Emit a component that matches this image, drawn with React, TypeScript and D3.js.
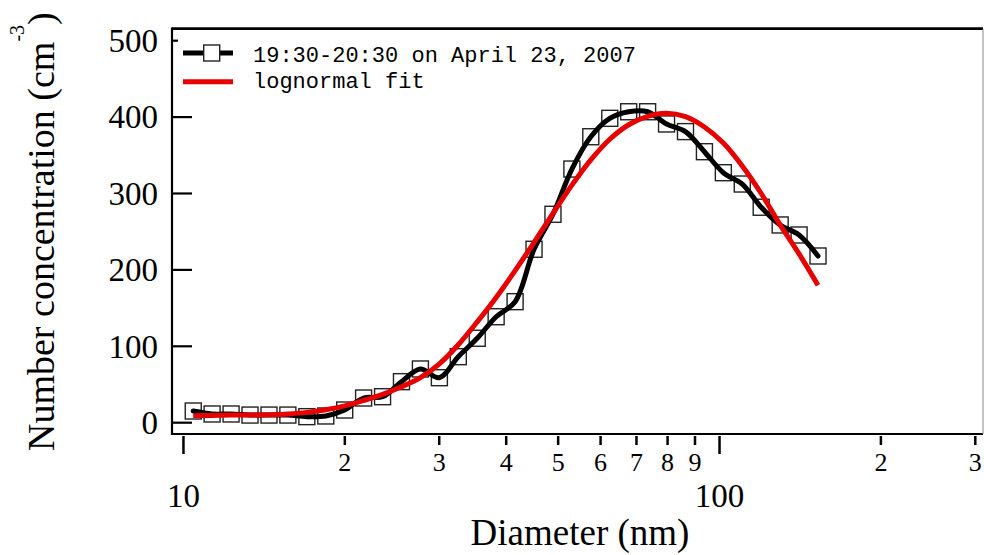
import React from "react";
import * as d3 from "d3";

// Diameter (nm) of each size bin
const diameters = [10.43, 11.31, 12.27, 13.31, 14.44, 15.66, 16.99, 18.43, 19.99, 21.68, 23.52, 25.51, 27.67, 30.02, 32.56, 35.32, 38.31, 41.56, 45.08, 48.9, 53.04, 57.53, 62.41, 67.69, 73.43, 79.65, 86.4, 93.72, 101.66, 110.27, 119.61, 129.75, 140.74, 152.66];
// Measured number concentration (cm^-3)
const concentration = [15.3, 11.4, 11.4, 10, 10, 10, 7.9, 8.8, 16.6, 32.3, 34, 53.7, 70.3, 58.9, 86.4, 110.5, 138.7, 158.4, 227, 272.8, 332, 374.3, 398.4, 407, 407, 391, 381, 354.7, 327.2, 312.4, 282, 258.8, 245.7, 218.2];
// Lognormal fit values read at the same diameters
const fitValues = [9, 9.5, 10, 10, 10.5, 11.5, 13.5, 17, 22, 29, 37, 47, 59, 77, 102, 132, 164, 199, 236, 274, 311, 344, 371, 390, 401, 405, 400.5, 387, 366, 336, 300, 259, 221, 180];

const yTicks = [0, 100, 200, 300, 400, 500];
const xMajorTicks = [10, 100];
const xMinorTicks = [20, 30, 40, 50, 60, 70, 80, 90, 200, 300];
const xMinorLabels = ["2", "3", "4", "5", "6", "7", "8", "9", "2", "3"];

const legendLabels = ["19:30-20:30 on April 23, 2007", "lognormal fit"];

const W = 984;
const H = 555;
const L = 172, R = 983, T = 28.7, B = 434;

const serif = "'Liberation Serif', 'Times New Roman', serif";
const mono = "'Liberation Mono', 'Courier New', monospace";

export default function App() {
  const x = d3.scaleLog().domain([9.52, 310.1]).range([L, R]);
  const y = d3.scaleLinear().domain([-14.8, 515.7]).range([B, T]);

  const measured = diameters.map((d, i) => [d, concentration[i]] as [number, number]);
  const fit = diameters.map((d, i) => [d, fitValues[i]] as [number, number]);

  const line = d3
    .line<[number, number]>()
    .x((p) => x(p[0]))
    .y((p) => y(p[1]))
    .curve(d3.curveCatmullRom.alpha(0.5));

  const sq = 16;

  return (
    <svg width={W} height={H} style={{ position: "absolute", left: 0, top: 0, background: "#fff" }}>
      <rect x={0} y={0} width={W} height={H} fill="#fff" />

      {/* markers */}
      {measured.map((p, i) => (
        <rect
          key={"m" + i}
          x={x(p[0]) - sq / 2}
          y={y(p[1]) - sq / 2}
          width={sq}
          height={sq}
          fill="none"
          stroke="#222"
          strokeWidth={1.4}
        />
      ))}
      <path d={line(measured) || ""} fill="none" stroke="#000" strokeWidth={5} strokeLinejoin="round" strokeLinecap="round" />
      <path d={line(fit) || ""} fill="none" stroke="#e80000" strokeWidth={5} strokeLinejoin="round" />

      {/* y ticks */}
      {yTicks.map((t) => (
        <g key={"yt" + t}>
          <line x1={L} x2={L + 20} y1={y(t)} y2={y(t)} stroke="#000" strokeWidth={2.2} />
          <text x={158} y={y(t)} dy="0.34em" textAnchor="end" fontFamily={serif} fontSize={33} fill="#000">
            {t}
          </text>
        </g>
      ))}

      {/* legend */}
      <rect x={178} y={33} width={470} height={62} fill="#fff" />
      <line x1={183} x2={233} y1={53} y2={53} stroke="#000" strokeWidth={5} />
      <rect x={211.7 - sq / 2} y={53 - sq / 2} width={sq} height={sq} fill="#fff" stroke="#222" strokeWidth={1.4} />
      <line x1={183} x2={233} y1={81.7} y2={81.7} stroke="#e80000" strokeWidth={5} />
      <text x={253} y={62} fontFamily={mono} fontSize={22} fill="#000">
        {legendLabels[0]}
      </text>
      <text x={253} y={88} fontFamily={mono} fontSize={22} fill="#000">
        {legendLabels[1]}
      </text>

      {/* frame */}
      <line x1={L} x2={R} y1={T} y2={T} stroke="#000" strokeWidth={2.7} />
      <line x1={L} x2={L} y1={T - 1.3} y2={B + 1} stroke="#000" strokeWidth={2.2} />
      <line x1={L} x2={R} y1={B} y2={B} stroke="#000" strokeWidth={2} />
      <line x1={R} x2={R} y1={T} y2={B} stroke="#888" strokeWidth={1} />

      {/* x ticks */}
      {xMajorTicks.map((t) => (
        <g key={"xM" + t}>
          <line x1={x(t)} x2={x(t)} y1={436} y2={454} stroke="#000" strokeWidth={2.5} />
          <text x={x(t)} y={507} textAnchor="middle" fontFamily={serif} fontSize={33} fill="#000">
            {t}
          </text>
        </g>
      ))}
      {xMinorTicks.map((t, i) => (
        <g key={"xm" + t}>
          <line x1={x(t)} x2={x(t)} y1={436} y2={445} stroke="#000" strokeWidth={2.5} />
          <text x={x(t)} y={471} textAnchor="middle" fontFamily={serif} fontSize={26} fill="#000">
            {xMinorLabels[i]}
          </text>
        </g>
      ))}

      {/* axis titles */}
      <text x={580} y={545} textAnchor="middle" fontFamily={serif} fontSize={37} fill="#000">
        Diameter (nm)
      </text>
      <text transform="translate(54,451) rotate(-90)" fontFamily={serif} fontSize={38} fill="#000">
        Number concentration (cm
        <tspan dy={-30} fontSize={20}>-3</tspan>
        <tspan dy={30}>)</tspan>
      </text>
    </svg>
  );
}
